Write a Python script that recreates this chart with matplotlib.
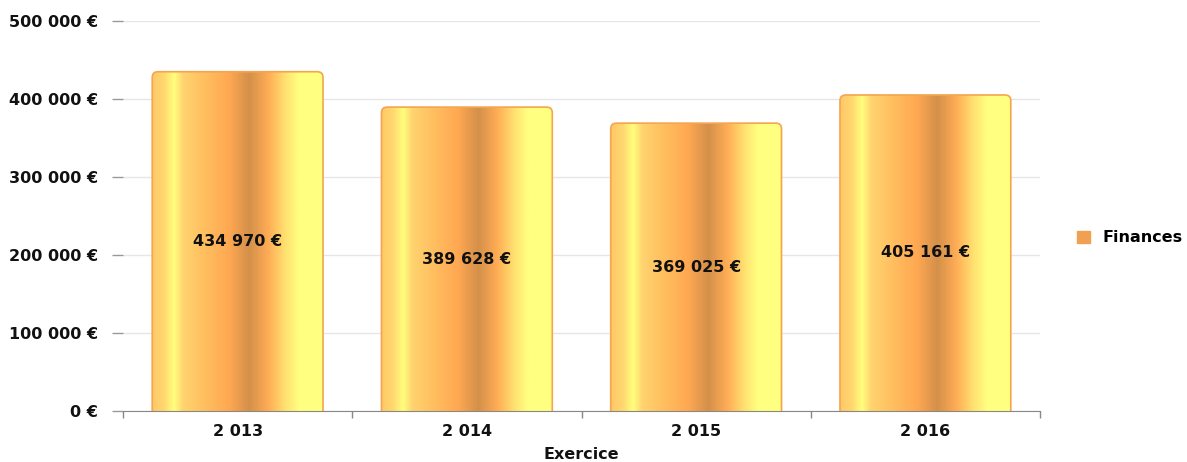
import matplotlib
matplotlib.use("Agg")
import matplotlib.pyplot as plt
import numpy as np
from matplotlib.colors import LinearSegmentedColormap
from matplotlib.patches import FancyBboxPatch, Patch

years = ["2 013", "2 014", "2 015", "2 016"]
values = [434970, 389628, 369025, 405161]
value_labels = ["434 970 €", "389 628 €", "369 025 €", "405 161 €"]
yticks = [0, 100000, 200000, 300000, 400000, 500000]
ytick_labels = ["0 €", "100 000 €", "200 000 €", "300 000 €", "400 000 €", "500 000 €"]
series_name = "Finances"
xlabel = "Exercice"

FS = 11.5
plt.rcParams['font.family'] = ['DejaVu Sans']
fig = plt.figure(figsize=(11.87, 4.62), dpi=100)
ax = fig.add_axes([123/1187, 51/462, (1040-123)/1187, (411-21)/462])

grad = LinearSegmentedColormap.from_list("gold", [
    (0.0, "#FFC866"), (0.07, "#FFD870"), (0.13, "#FFFF7C"), (0.18, "#FFD470"),
    (0.30, "#FFC060"), (0.45, "#FFA852"), (0.57, "#D4904A"), (0.68, "#FFAC55"),
    (0.78, "#FFE070"), (0.86, "#FFFF80"), (1.0, "#FFFF80")])

x = np.arange(len(years))
width = 0.745
bars = ax.bar(x, values, width=width, color="none", edgecolor="none", zorder=2)
grad_img = np.linspace(0, 1, 256).reshape(1, -1)
for b in bars:
    x0, w, h = b.get_x(), b.get_width(), b.get_height()
    patch = FancyBboxPatch((x0, -20000), w, h + 20000,
                           boxstyle="round,pad=0,rounding_size=0.025",
                           mutation_aspect=290000,
                           facecolor="none", edgecolor="#F5A550", linewidth=1.2, zorder=4)
    ax.add_patch(patch)
    im = ax.imshow(grad_img, cmap=grad, aspect="auto", extent=(x0, x0 + w, -20000, h),
                   zorder=3, interpolation="bilinear")
    im.set_clip_path(patch)

for xi, v, lab in zip(x, values, value_labels):
    ax.text(xi, v / 2, lab, ha="center", va="center", fontsize=FS,
            fontweight="bold", color="#111111", zorder=5)

ax.set_xlim(-0.5, len(years) - 0.5)
ax.set_ylim(0, 500000)
ax.set_yticks(yticks)
ax.set_yticklabels(ytick_labels, fontsize=FS, fontweight="bold", color="#111111")
ax.set_xticks(x)
ax.set_xticklabels(years, fontsize=FS, fontweight="bold", color="#111111")
ax.set_xticks(np.arange(-0.5, len(years)), minor=True)
ax.tick_params(axis="x", which="major", length=0, pad=9)
ax.tick_params(axis="x", which="minor", length=5, color="#888888", width=1)
ax.tick_params(axis="y", length=8, color="#999999", width=1, pad=10)
for s in ["top", "right", "left"]:
    ax.spines[s].set_visible(False)
ax.spines["bottom"].set_color("#888888")
ax.spines["bottom"].set_zorder(6)
ax.yaxis.grid(True, color="#e6e6e6", linewidth=1)
ax.set_axisbelow(True)
ax.set_xlabel(xlabel, fontsize=FS, fontweight="bold", color="#111111", labelpad=6)

fig.legend(handles=[Patch(facecolor="#F0A050", edgecolor="#F0A050")], labels=[series_name],
           loc="center left", bbox_to_anchor=(1063/1187, 1 - 238/462), frameon=False,
           prop={"weight": "bold", "size": FS}, handlelength=0.8, handleheight=0.8,
           handletextpad=0.8)

fig.savefig("out.png", dpi=100)
